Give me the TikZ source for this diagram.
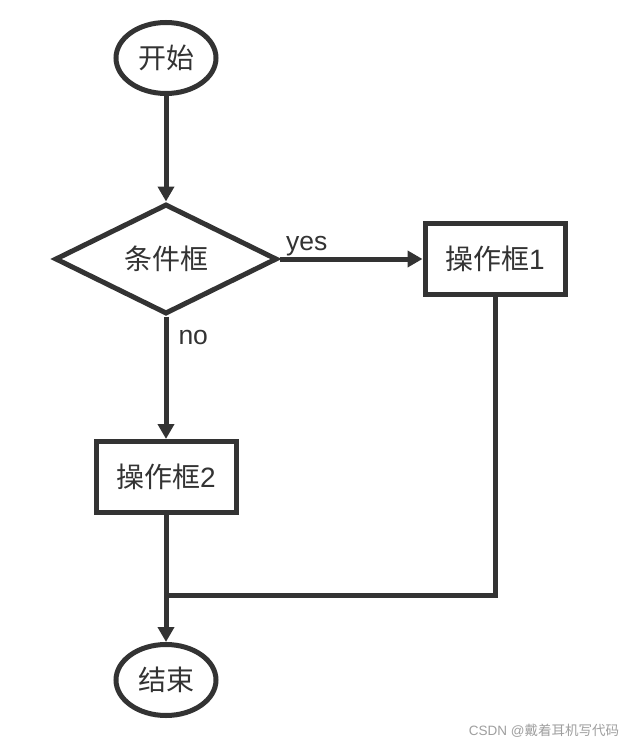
\documentclass[tikz,border=0pt]{standalone}
\usepackage{fontspec}
\setmainfont{Liberation Sans}
\newfontfamily\cjk{Noto Sans CJK SC}
\usetikzlibrary{shapes.geometric,arrows.meta}
\definecolor{ink}{HTML}{333333}
\tikzset{
  every node/.style={font=\fontsize{28}{32}\selectfont, text=ink},
  flowline/.style={draw=ink, line width=5pt},
  flowarrow/.style={flowline, -{Triangle[length=15pt,width=16pt]}},
  terminal/.style={ellipse, draw=ink, line width=5pt, minimum width=100pt, minimum height=71pt, inner sep=0pt},
  decision/.style={diamond, draw=ink, line width=5pt, minimum width=222pt, minimum height=110pt, inner sep=0pt, aspect=2},
  process/.style={rectangle, draw=ink, line width=5pt, minimum width=140pt, minimum height=71pt, inner sep=0pt},
  lbl/.style={font=\fontsize{26.5}{30}\selectfont, text=ink, inner sep=0pt},
}
\begin{document}
\begin{tikzpicture}[x=1pt,y=-1pt]
\useasboundingbox[fill=white] (0,0) rectangle (636,746);
\node[terminal] (start) at (166,58) {\cjk 开始};
\node[decision] (dec) at (166,259) {\cjk 条件框};
\node[process] (op1) at (495,259) {{\cjk 操作框}1};
\node[process] (op2) at (166,477) {{\cjk 操作框}2};
\node[terminal] (end) at (166,680) {\cjk 结束};
\coordinate (merge) at (166,595);
\draw[flowarrow] (start) -- (dec.north);
\draw[flowarrow] (dec.east) -- node[lbl, pos=0.19, above=1pt] (yes) {yes} (op1.west);
\draw[flowarrow] (dec.south) -- node[lbl, pos=0.17, right=10pt] (no) {no} (op2.north);
\draw[flowline] (op1.south) |- (merge);
\draw[flowarrow] (op2.south) -- (end.north);
\node[font=\fontsize{13.5}{16}\selectfont, text=gray!75] (wm) at (544,731) {CSDN @{\cjk 戴着耳机写代码}};
\end{tikzpicture}
\end{document}
